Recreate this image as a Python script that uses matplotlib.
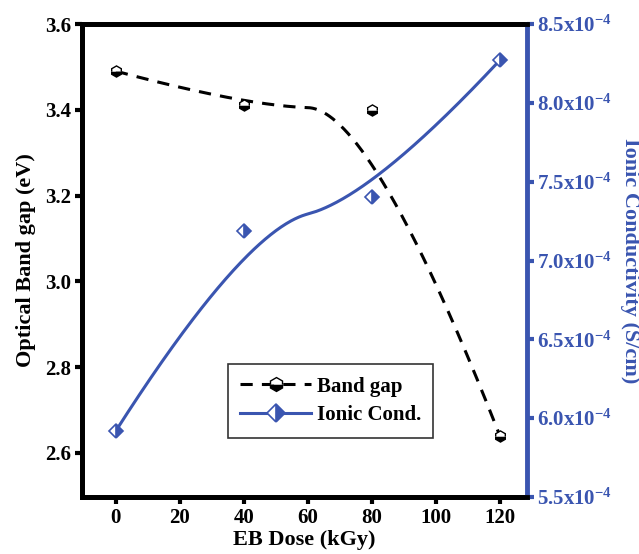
import numpy as np
import matplotlib
matplotlib.use('Agg')
import matplotlib.pyplot as plt
from matplotlib.ticker import FuncFormatter

plt.rcParams['font.family'] = 'Liberation Serif'
plt.rcParams['font.weight'] = 'bold'
plt.rcParams['mathtext.fontset'] = 'custom'
plt.rcParams['mathtext.rm'] = 'Liberation Serif:bold'
plt.rcParams['mathtext.bf'] = 'Liberation Serif:bold'
plt.rcParams['mathtext.default'] = 'rm'

# data
dose = np.array([0, 40, 80, 120])
band_gap = np.array([3.49, 3.41, 3.40, 2.64])
ionic_cond = np.array([5.92e-4, 7.19e-4, 7.40e-4, 8.27e-4])

blue = '#3a55b0'


# quadratic clamped B-spline using the data points as control points
def bspline(xc, yc, n=300):
    k = 2
    pts = np.column_stack([xc, yc]).astype(float)
    m = len(pts)
    knots = np.concatenate([np.zeros(k), np.linspace(0, 1, m - k + 1), np.ones(k)])
    out = []
    for u in np.linspace(0, 1, n):
        if u >= 1:
            out.append(pts[-1])
            continue
        j = np.searchsorted(knots, u, side='right') - 1
        d = [pts[j - k + i].copy() for i in range(k + 1)]
        for r in range(1, k + 1):
            for i in range(k, r - 1, -1):
                a = (u - knots[i + j - k]) / (knots[i + 1 + j - r] - knots[i + j - k])
                d[i] = (1 - a) * d[i - 1] + a * d[i]
        out.append(d[k])
    out = np.array(out)
    return out[:, 0], out[:, 1]


fig = plt.figure(figsize=(6.39, 5.54), dpi=100)
ax = fig.add_axes([82 / 639, 57 / 554, 445 / 639, 473 / 554])
ax2 = ax.twinx()

bx, by = bspline(dose, band_gap)
ax.plot(bx, by, color='black', lw=2.2, ls=(0, (4, 3)))
ax.plot(dose, band_gap, ls='none', marker='h', ms=8, fillstyle='bottom',
        color='black', markerfacecoloralt='white', mew=1)
h1, = ax.plot([], [], color='black', lw=2.2, ls=(0, (4, 3)), marker='h', ms=10,
              fillstyle='bottom', markerfacecoloralt='white', mew=1)

ix, iy = bspline(dose, ionic_cond)
ax2.plot(ix, iy, color=blue, lw=2.2)
ax2.plot(dose, ionic_cond, ls='none', marker='D', ms=7, fillstyle='right',
         color=blue, markerfacecoloralt='white', mew=1.2)
h2, = ax2.plot([], [], color=blue, lw=2.2, marker='D', ms=9, fillstyle='right',
               markerfacecoloralt='white', mew=1.2)

ax.set_xlim(-10.6, 128.5)
ax.set_ylim(2.497, 3.6)
ax2.set_ylim(5.5e-4, 8.5e-4)

ax.set_xticks([0, 20, 40, 60, 80, 100, 120])
ax.set_yticks([2.6, 2.8, 3.0, 3.2, 3.4, 3.6])
ax.yaxis.set_major_formatter(FuncFormatter(lambda v, p: f'{v:.1f}'))
ax2.set_yticks(np.arange(5.5e-4, 8.51e-4, 0.5e-4))
ax2.yaxis.set_major_formatter(FuncFormatter(lambda v, p: f'{v * 1e4:.1f}x10$^{{-4}}$'))

for s in ['left', 'bottom', 'top']:
    ax.spines[s].set_linewidth(3.5)
    ax2.spines[s].set_linewidth(3.5)
ax2.spines['right'].set_linewidth(3.5)
ax2.spines['right'].set_color(blue)

ax.tick_params(axis='both', length=5, width=3, labelsize=15, pad=3)
ax2.tick_params(axis='y', length=5, width=3, labelsize=15, color=blue,
                labelcolor=blue, pad=2)

ax.set_xlabel('EB Dose (kGy)', fontsize=16, fontweight='bold', labelpad=1)
ax.set_ylabel('Optical Band gap (eV)', fontsize=16, fontweight='bold', labelpad=6)
ax2.set_ylabel('Ionic Conductivity (S/cm)', fontsize=16, fontweight='bold',
               color=blue, rotation=270, labelpad=20)

leg = ax2.legend([h1, h2], ['Band gap', 'Ionic Cond.'], loc='upper left',
                 bbox_to_anchor=(0.328, 0.281), borderaxespad=0, fontsize=15,
                 frameon=True, fancybox=False, edgecolor='black',
                 handlelength=3.4, borderpad=0.6, labelspacing=0.42,
                 handletextpad=0.25)
leg.get_frame().set_linewidth(1.2)

fig.savefig('out.png', dpi=100)
